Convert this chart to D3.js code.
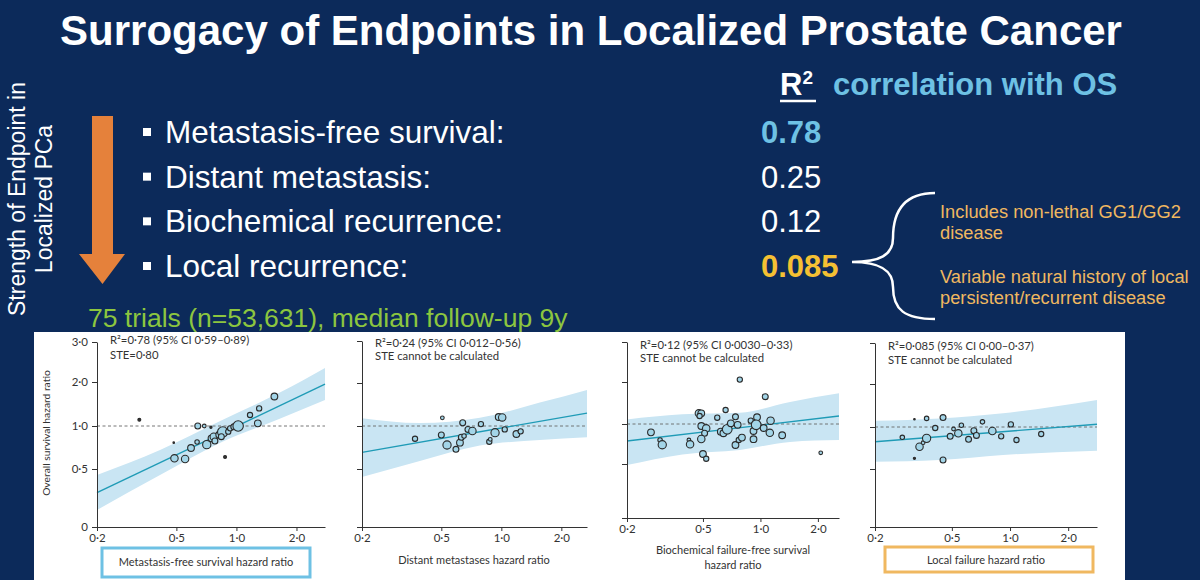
<!DOCTYPE html>
<html>
<head>
<meta charset="utf-8">
<script src="https://cdn.jsdelivr.net/npm/d3@7.9.0/dist/d3.min.js"></script>
<style>
  html, body { margin: 0; padding: 0; background: #0c2a5a; }
  svg { display: block; }
  .sans { font-family: "Liberation Sans", Arial, sans-serif; }
  .fig { font-family: Lato, "Open Sans", sans-serif; fill: #333; }
</style>
</head>
<body>
<svg id="chart" width="1200" height="580"></svg>
<script>
/* =====================================================
   Surrogacy slide: summary text on top, four
   meta-regression panels (trial HR vs OS HR) below
   ===================================================== */

/* --- Slide text --- */
const endpoints = ['Metastasis-free survival:', 'Distant metastasis:', 'Biochemical recurrence:', 'Local recurrence:'];
const r2Values = ['0.78', '0.25', '0.12', '0.085'];
const notes = ['Includes non-lethal GG1/GG2', 'disease', 'Variable natural history of local', 'persistent/recurrent disease'];

/* --- Axis ticks --- */
const hrTicks = [0.2, 0.5, 1, 2];
const hrTickLabels = ['0·2', '0·5', '1·0', '2·0'];
const osTicks = [0, 0.5, 1, 2, 3];
const osTickLabels = ['0', '0·5', '1·0', '2·0', '3·0'];

/* --- Trials: [surrogate HR, OS HR, relative weight] --- */
const mfsPoints = [
  [0.326, 1.14, 7], [0.485, 0.806, 2], [0.489, 0.624, 44], [0.553, 0.616, 44], [0.592, 0.744, 36],
  [0.635, 0.814, 16], [0.64, 1.0, 28], [0.69, 1.0, 11], [0.745, 0.985, 4], [0.71, 0.783, 54],
  [0.75, 0.857, 36], [0.77, 0.876, 44], [0.78, 0.826, 28], [0.82, 0.899, 36], [0.854, 0.93, 87],
  [0.84, 0.876, 28], [0.877, 0.64, 7], [0.91, 0.934, 22], [0.93, 0.973, 22], [0.97, 0.99, 28],
  [1.02, 1.0, 87], [1.17, 1.25, 22], [1.30, 1.40, 22], [1.28, 1.06, 36], [1.55, 1.67, 36]
];
const dmPoints = [
  [0.369, 0.852, 22], [0.506, 1.19, 11], [0.50, 0.895, 28], [0.534, 0.779, 54], [0.592, 0.729, 28],
  [0.62, 0.806, 36], [0.63, 0.869, 28], [0.64, 1.075, 28], [0.65, 0.884, 16], [0.68, 0.96, 28],
  [0.716, 0.942, 44], [0.79, 1.045, 22], [0.87, 0.817, 22], [0.88, 0.845, 11], [0.93, 0.922, 54],
  [0.97, 1.21, 36], [1.01, 1.20, 44], [1.04, 0.96, 22], [1.19, 0.907, 36], [1.25, 0.938, 22]
];
const bcrPoints = [
  [0.267, 0.896, 36], [0.298, 0.80, 16], [0.306, 0.741, 54], [0.422, 0.80, 11], [0.428, 0.746, 44],
  [0.476, 1.255, 44], [0.49, 1.255, 36], [0.48, 1.19, 22], [0.49, 0.975, 36], [0.52, 0.946, 44],
  [0.51, 0.884, 28], [0.49, 0.8125, 44], [0.50, 0.625, 36], [0.52, 0.566, 22], [0.594, 1.15, 22],
  [0.657, 1.333, 22], [0.62, 0.904, 36], [0.64, 0.884, 36], [0.67, 0.934, 75], [0.70, 1.017, 36],
  [0.74, 1.17, 28], [0.76, 0.99, 36], [0.78, 2.06, 22], [0.74, 0.7375, 36], [0.77, 0.80, 22],
  [0.80, 0.83, 36], [0.89, 1.08, 22], [0.96, 1.16, 36], [0.94, 1.0, 44], [0.92, 0.9125, 36],
  [0.92, 0.81, 36], [0.95, 0.99, 75], [1.04, 0.95, 36], [1.06, 1.65, 28], [1.13, 1.08, 44],
  [1.12, 0.89, 44], [1.30, 0.859, 36], [2.07, 0.64, 11]
];
const lrPoints = [
  [0.277, 0.877, 16], [0.32, 1.18, 2], [0.32, 0.627, 4], [0.34, 0.765, 44], [0.355, 0.813, 11],
  [0.37, 0.865, 54], [0.37, 1.20, 16], [0.41, 0.988, 22], [0.45, 1.22, 28], [0.45, 0.607, 28],
  [0.49, 0.889, 28], [0.51, 0.976, 11], [0.54, 0.925, 44], [0.56, 1.04, 16], [0.61, 0.853, 28],
  [0.65, 0.956, 28], [0.67, 0.90, 28], [0.72, 1.12, 16], [0.81, 0.952, 44], [0.90, 0.889, 22],
  [1.01, 1.06, 22], [1.08, 0.845, 22], [1.45, 0.917, 22]
];

/* --- Regression lines: [HR, OS HR] at both ends --- */
const mfsFit = [[0.2, 0.297], [2.78, 1.95]];
const dmFit = [[0.2, 0.694], [2.69, 1.30]];
const bcrFit = [[0.2, 0.7875], [2.58, 1.19]];
const lrFit = [[0.2, 0.825], [2.82, 1.063]];

/* --- 95% bands: [HR, lower, upper] --- */
const mfsBand = [[0.2, 0.147, 0.448], [0.414, 0.448, 0.721], [0.85, 0.817, 1.136], [1.66, 1.17, 1.766], [2.78, 1.59, 2.35]];
const dmBand = [[0.2, 0.431, 1.18], [0.39, 0.593, 1.068], [0.78, 0.773, 1.19], [1.56, 0.837, 1.545], [2.69, 0.87, 1.84]];
const bcrBand = [[0.2, 0.49, 1.11], [0.39, 0.62, 1.23], [0.78, 0.675, 1.27], [1.43, 0.776, 1.526], [2.58, 0.80, 1.73]];
const lrBand = [[0.2, 0.587, 1.147], [0.43, 0.607, 1.20], [0.92, 0.667, 1.32], [2.82, 0.718, 1.63]];

/* --- Panel layout (built from the arrays above) --- */
const panels = [
  { points: mfsPoints, fit: mfsFit, band: mfsBand, xMax: 2.78, xRange: [97, 325],
    yRange: [527, 469, 426, 382, 342], yLabels: true, statsY: [344, 359],
    stats: ['R²=0·78 (95% CI 0·59–0·89)', 'STE=0·80'],
    title: ['Metastasis-free survival hazard ratio'], titleX: 206, titleY: 566,
    box: { x: 102, y: 548, w: 208, h: 29, color: '#6ec1e4' } },
  { points: dmPoints, fit: dmFit, band: dmBand, xMax: 2.69, xRange: [362, 587],
    yRange: [527, 469, 426, 383, 341], yLabels: false, statsY: [347, 360],
    stats: ['R²=0·24 (95% CI 0·012–0·56)', 'STE cannot be calculated'],
    title: ['Distant metastases hazard ratio'], titleX: 474, titleY: 564 },
  { points: bcrPoints, fit: bcrFit, band: bcrBand, xMax: 2.58, xRange: [627, 839],
    yRange: [518, 464, 424, 382, 342], yLabels: false, statsY: [349, 362],
    stats: ['R²=0·12 (95% CI 0·0030–0·33)', 'STE cannot be calculated'],
    title: ['Biochemical failure-free survival', 'hazard ratio'], titleX: 733, titleY: 554 },
  { points: lrPoints, fit: lrFit, band: lrBand, xMax: 2.82, xRange: [875, 1097],
    yRange: [527, 469, 427, 384, 343], yLabels: false, statsY: [350, 364],
    stats: ['R²=0·085 (95% CI 0·00–0·37)', 'STE cannot be calculated'],
    title: ['Local failure hazard ratio'], titleX: 986, titleY: 564,
    box: { x: 885, y: 547, w: 208, h: 25, color: '#f0b860' } }
];

const svg = d3.select('#chart');

/* --- Slide background --- */
svg.append('rect').attr('width', 1200).attr('height', 580).attr('fill', '#0c2a5a');

/* --- Title --- */
svg.append('text').attr('class', 'sans')
  .attr('x', 591).attr('y', 45)
  .attr('text-anchor', 'middle')
  .attr('font-size', 42).attr('font-weight', 'bold').attr('fill', '#fff')
  .text('Surrogacy of Endpoints in Localized Prostate Cancer');

/* --- R² header --- */
const r2Head = svg.append('text').attr('class', 'sans')
  .attr('x', 780).attr('y', 95)
  .attr('font-size', 31).attr('font-weight', 'bold').attr('fill', '#fff');
r2Head.append('tspan').text('R');
r2Head.append('tspan').attr('font-size', 19).attr('dy', -11).text('2');
svg.append('line').attr('x1', 780).attr('x2', 816).attr('y1', 101).attr('y2', 101)
  .attr('stroke', '#fff').attr('stroke-width', 2.5);
svg.append('text').attr('class', 'sans')
  .attr('x', 833).attr('y', 95)
  .attr('font-size', 31).attr('font-weight', 'bold').attr('fill', '#6ec1e4')
  .text('correlation with OS');

/* --- Endpoint list --- */
const rowY = d3.scalePoint().domain(endpoints).range([143, 277]);
endpoints.forEach((e, i) => {
  svg.append('rect')
    .attr('x', 143).attr('y', rowY(e) - 15).attr('width', 8).attr('height', 8)
    .attr('fill', '#fff');
  svg.append('text').attr('class', 'sans')
    .attr('x', 165).attr('y', rowY(e))
    .attr('font-size', 31.5).attr('fill', '#fff')
    .text(e);
  const strong = i === 0 || i === 3;
  svg.append('text').attr('class', 'sans')
    .attr('x', 761).attr('y', rowY(e))
    .attr('font-size', 31)
    .attr('font-weight', strong ? 'bold' : 'normal')
    .attr('fill', i === 0 ? '#6ec1e4' : i === 3 ? '#f5c033' : '#fff')
    .text(r2Values[i]);
});

/* --- Orange "strength" arrow + rotated label --- */
svg.append('path')
  .attr('d', 'M92,116 H113 V254 H125 L102.5,284 L79,254 H92 Z')
  .attr('fill', '#e5813b');
const sideLabel = svg.append('text').attr('class', 'sans')
  .attr('transform', 'translate(31,199) rotate(-90)')
  .attr('text-anchor', 'middle')
  .attr('font-size', 23).attr('fill', '#fff');
sideLabel.append('tspan').attr('x', 0).attr('dy', -6).text('Strength of Endpoint in');
sideLabel.append('tspan').attr('x', 0).attr('dy', 27).text('Localized PCa');

/* --- Brace + notes --- */
svg.append('path')
  .attr('d', 'M935,193 C905,193 893,210 893,238 C893,255 880,262 852,262 C880,262 893,270 893,287 C893,310 905,319 935,319')
  .attr('fill', 'none').attr('stroke', '#fff').attr('stroke-width', 2.5);
const noteY = [218, 239, 283, 304];
notes.forEach((n, i) => {
  svg.append('text').attr('class', 'sans')
    .attr('x', 940).attr('y', noteY[i])
    .attr('font-size', 18.3).attr('fill', '#f0b860')
    .text(n);
});

/* --- Trial summary --- */
svg.append('text').attr('class', 'sans')
  .attr('x', 88).attr('y', 327)
  .attr('font-size', 26.5).attr('fill', '#8cc63f')
  .text('75 trials (n=53,631), median follow-up 9y');

/* --- Figure area --- */
svg.append('rect').attr('x', 34).attr('y', 332).attr('width', 1091).attr('height', 248).attr('fill', '#fff');

const rScale = d3.scaleSqrt().domain([0, 100]).range([0, 5.6]);

panels.forEach(p => {
  const x = d3.scaleLog().domain([0.2, p.xMax]).range(p.xRange);
  const y = d3.scaleLinear().domain(osTicks).range(p.yRange);
  const g = svg.append('g');

  // confidence band
  g.append('path').datum(p.band)
    .attr('d', d3.area()
      .x(d => x(d[0])).y0(d => y(d[1])).y1(d => y(d[2]))
      .curve(d3.curveMonotoneX))
    .attr('fill', '#c9e5f3');

  // HR = 1 reference
  g.append('line')
    .attr('x1', x(0.2)).attr('x2', x(p.xMax))
    .attr('y1', y(1)).attr('y2', y(1))
    .attr('stroke', '#666').attr('stroke-width', 0.9).attr('stroke-dasharray', '3,2.5');

  // regression line
  g.append('path').datum(p.fit)
    .attr('d', d3.line().x(d => x(d[0])).y(d => y(d[1])))
    .attr('fill', 'none').attr('stroke', '#1f9bb6').attr('stroke-width', 1.4);

  // trials
  g.selectAll('circle')
    .data(p.points)
    .join('circle')
    .attr('cx', d => x(d[0]))
    .attr('cy', d => y(d[1]))
    .attr('r', d => rScale(d[2]))
    .attr('fill', d => d[2] < 10 ? '#333' : '#a3d5e8')
    .attr('stroke', '#2a2a2a').attr('stroke-width', 1.1);

  // axes
  const yAxis = d3.axisLeft(y)
    .tickValues(osTicks).tickSize(5).tickSizeOuter(0)
    .tickFormat((d, i) => p.yLabels ? osTickLabels[i] : '');
  const xAxis = d3.axisBottom(x)
    .tickValues(hrTicks).tickSize(4).tickSizeOuter(0)
    .tickFormat((d, i) => hrTickLabels[i]);

  const ya = g.append('g').attr('transform', `translate(${p.xRange[0]},0)`).call(yAxis);
  const xa = g.append('g').attr('transform', `translate(0,${p.yRange[0]})`).call(xAxis);
  [ya, xa].forEach(a => {
    a.selectAll('path, line').attr('stroke', '#333').attr('stroke-width', 1);
    a.selectAll('text').attr('class', 'fig').attr('font-size', 11.5).attr('fill', '#333');
  });
  ya.selectAll('text').attr('x', -9);

  // stats text
  p.stats.forEach((s, i) => {
    g.append('text').attr('class', 'fig')
      .attr('x', p.xRange[0] + 13).attr('y', p.statsY[i])
      .attr('font-size', 11.3)
      .text(s);
  });

  // x title
  p.title.forEach((t, i) => {
    g.append('text').attr('class', 'fig')
      .attr('x', p.titleX).attr('y', p.titleY + i * 15)
      .attr('text-anchor', 'middle')
      .attr('font-size', 11)
      .text(t);
  });

  if (p.box) {
    g.append('rect')
      .attr('x', p.box.x).attr('y', p.box.y)
      .attr('width', p.box.w).attr('height', p.box.h)
      .attr('fill', 'none').attr('stroke', p.box.color).attr('stroke-width', 3);
  }
});

/* --- y title, first panel only --- */
svg.append('text').attr('class', 'fig')
  .attr('transform', 'translate(50,433) rotate(-90)')
  .attr('text-anchor', 'middle')
  .attr('font-size', 10.3)
  .text('Overall survival hazard ratio');
</script>
</body>
</html>
